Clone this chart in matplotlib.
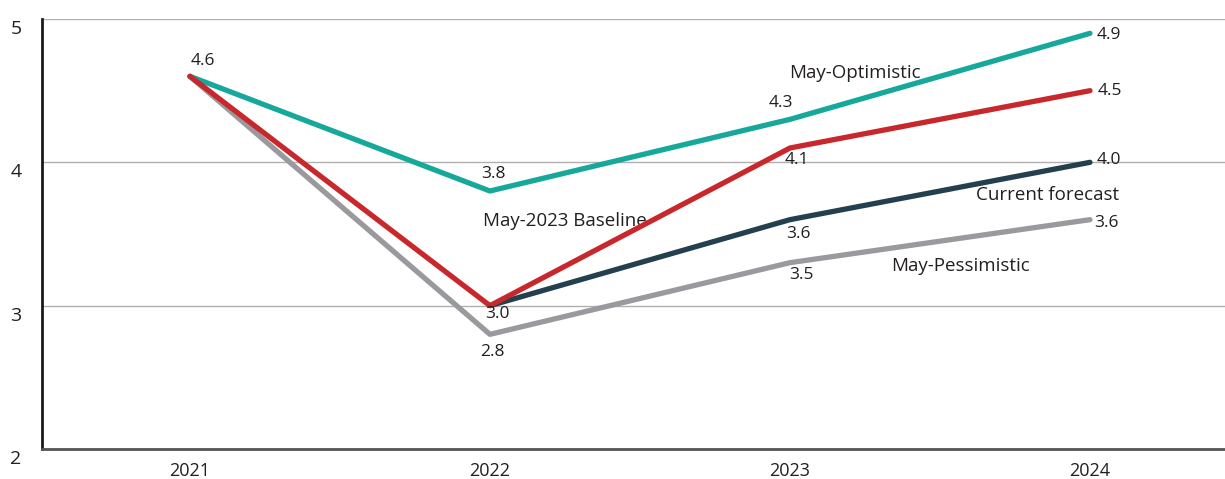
import matplotlib.pyplot as plt
import numpy as np

plt.rcParams['font.family'] = ['Open Sans', 'DejaVu Sans']

# Datos
years = ['2021', '2022', '2023', '2024']
optimistic = [4.6, 3.8, 4.3, 4.9]
baseline = [4.6, 3.0, 4.1, 4.5]
current = [np.nan, 3.0, 3.6, 4.0]
pessimistic = [4.6, 2.8, 3.3, 3.6]

# Etiquetas de valores tal como aparecen en el grafico
optimistic_labels = ['4.6', '3.8', '4.3', '4.9']
baseline_labels = ['', '3.0', '4.1', '4.5']
current_labels = ['', '', '3.6', '4.0']
pessimistic_labels = ['', '2.8', '3.5', '3.6']

yticks = [2, 3, 4, 5]

text_color = '#231f20'
c_opt = '#16a89b'
c_base = '#c8282b'
c_cur = '#243f4e'
c_pes = '#9a9a9e'

fig = plt.figure(figsize=(12.25, 4.79), dpi=100)
ax = fig.add_axes([42 / 1225, 1 - 449 / 479, 1 - 42 / 1225, 430 / 479])

x = np.arange(len(years))
ax.plot(x, pessimistic, color=c_pes, lw=3.8, solid_capstyle='round', zorder=3)
ax.plot(x, optimistic, color=c_opt, lw=3.8, solid_capstyle='round', zorder=4)
ax.plot(x, current, color=c_cur, lw=3.8, solid_capstyle='round', zorder=5)
ax.plot(x, baseline, color=c_base, lw=3.8, solid_capstyle='round', zorder=6)

fs = 12.5

def label(xi, yi, txt, dx, dy, ha='center'):
    if txt:
        ax.annotate(txt, (xi, yi), xytext=(dx, dy), textcoords='offset pixels',
                    ha=ha, va='center', fontsize=fs, color=text_color, zorder=7)

# Desplazamientos (pixeles) de cada etiqueta respecto a su punto
opt_off = [(13, 15), (3, 17), (-9, 16), (19, -2)]
base_off = [(0, 0), (7, -8), (7, -12), (20, 0)]
cur_off = [(0, 0), (0, 0), (8, -14), (19, 2)]
pes_off = [(0, 0), (2, -18), (11, -12), (16, -3)]

for i in range(len(years)):
    label(x[i], optimistic[i], optimistic_labels[i], *opt_off[i])
    label(x[i], baseline[i], baseline_labels[i], *base_off[i])
    label(x[i], current[i], current_labels[i], *cur_off[i])
    label(x[i], pessimistic[i], pessimistic_labels[i], *pes_off[i])

# Nombres de las series
fs2 = 13.5
ax.text(2.217, 4.62, 'May-Optimistic', ha='center', va='center', fontsize=fs2, color=text_color)
ax.text(1.25, 3.594, 'May-2023 Baseline', ha='center', va='center', fontsize=fs2, color=text_color)
ax.text(2.857, 3.77, 'Current forecast', ha='center', va='center', fontsize=fs2, color=text_color)
ax.text(2.567, 3.28, 'May-Pessimistic', ha='center', va='center', fontsize=fs2, color=text_color)

ax.set_xlim(-0.493, 3.45)
ax.set_ylim(2, 5)
ax.set_xticks(x)
ax.set_xticklabels(years, fontsize=13, color=text_color)
ax.set_yticks(yticks)
ax.set_yticklabels([])
for t in yticks:
    ax.annotate(str(t), xy=(0, t), xycoords=('axes fraction', 'data'),
                xytext=(-26, -10), textcoords='offset pixels',
                ha='center', va='center', fontsize=14, color=text_color)
ax.tick_params(axis='both', length=0)
ax.tick_params(axis='x', pad=9)

ax.grid(axis='y', color='#b0b0b0', lw=1.0)
ax.set_axisbelow(True)
for s in ['top', 'right']:
    ax.spines[s].set_visible(False)
ax.spines['left'].set_color('#1a1a1a')
ax.spines['left'].set_linewidth(2)
ax.spines['bottom'].set_color('#555555')
ax.spines['bottom'].set_linewidth(2)

fig.savefig('out.png', dpi=100)
